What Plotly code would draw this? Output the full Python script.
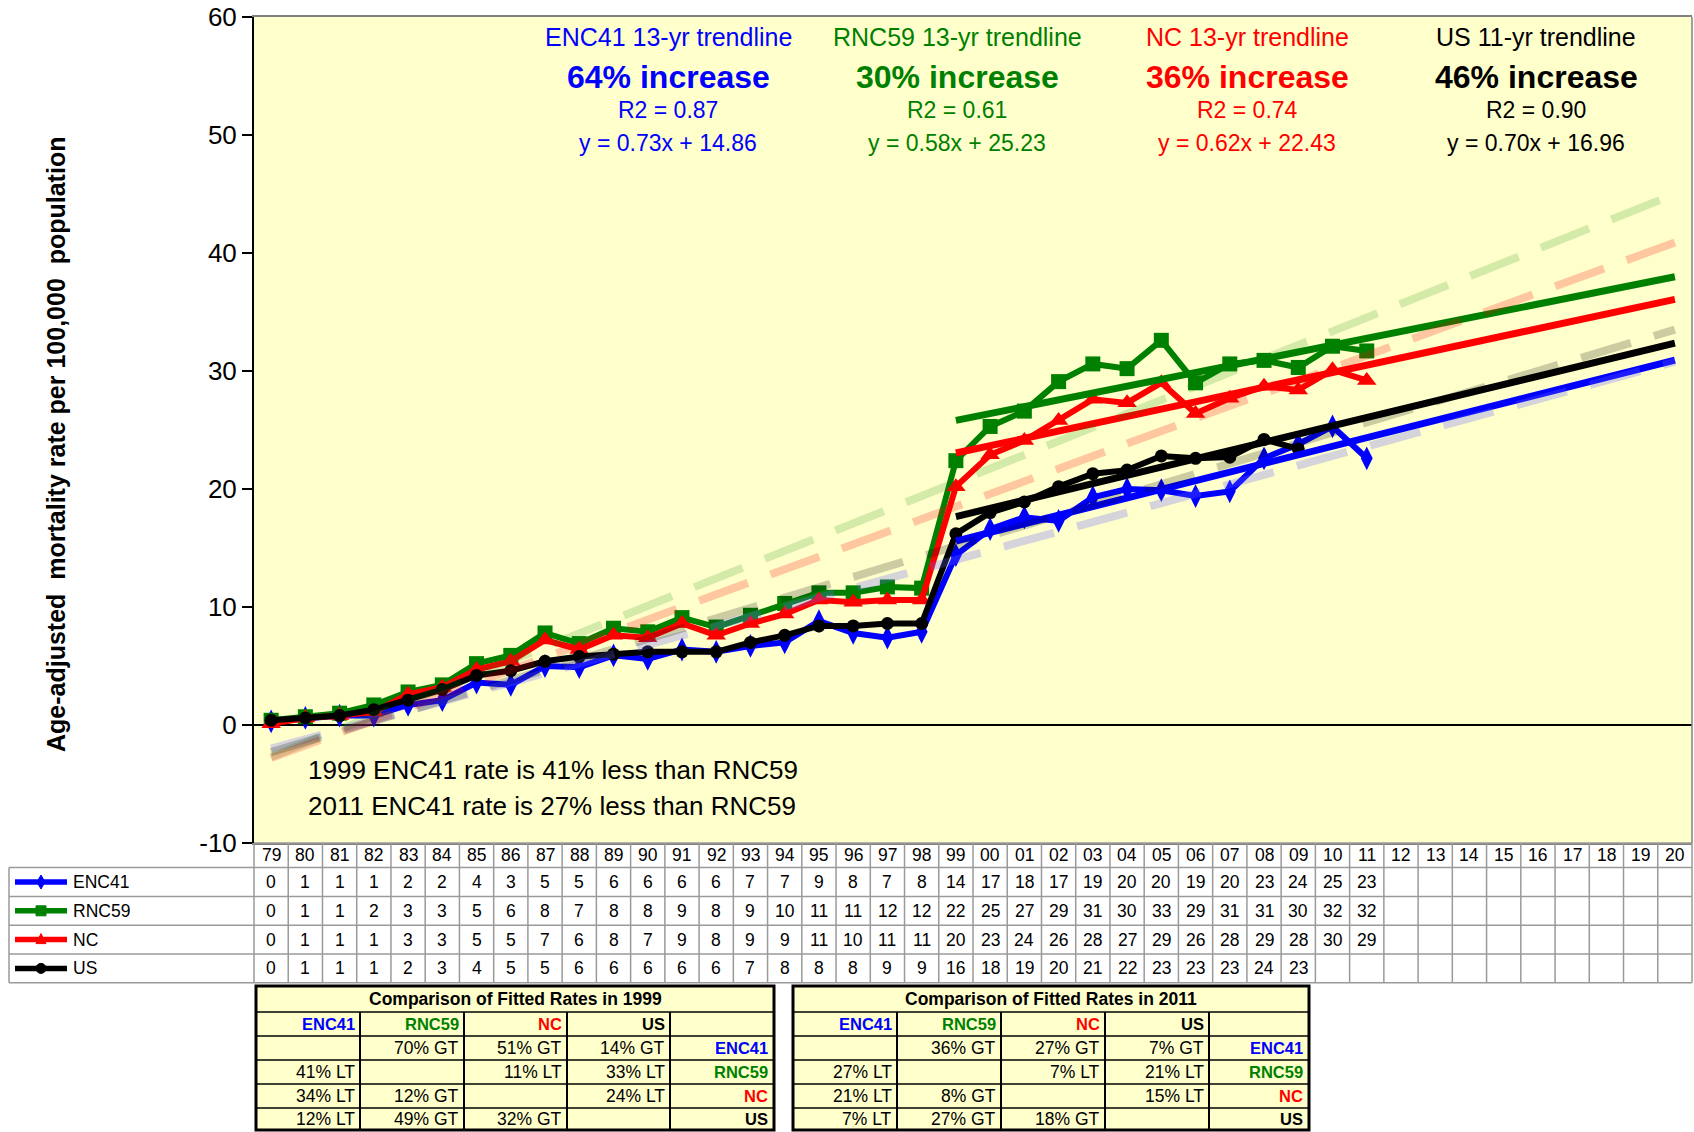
import plotly.graph_objects as go

# ---------------------------------------------------------------- data
year_labels = ["79", "80", "81", "82", "83", "84", "85", "86", "87", "88",
               "89", "90", "91", "92", "93", "94", "95", "96", "97", "98",
               "99", "00", "01", "02", "03", "04", "05", "06", "07", "08",
               "09", "10", "11", "12", "13", "14", "15", "16", "17", "18",
               "19", "20"]

series_names = ["ENC41", "RNC59", "NC", "US"]
series_colors = ["#0000FF", "#008000", "#FF0000", "#000000"]

enc41 = [0.3, 0.6, 0.8, 0.8, 1.7, 2.1, 3.6, 3.4, 5.0, 4.9, 5.9, 5.6, 6.4, 6.2,
         6.7, 7.0, 8.8, 7.8, 7.4, 7.9, 14.4, 16.6, 17.6, 17.3, 19.3, 20.0,
         19.9, 19.4, 19.8, 22.6, 23.8, 25.3, 22.6]
rnc59 = [0.4, 0.7, 1.0, 1.7, 2.8, 3.4, 5.2, 5.9, 7.8, 6.9, 8.2, 7.9, 9.1, 8.3,
         9.3, 10.3, 11.2, 11.2, 11.7, 11.6, 22.4, 25.3, 26.6, 29.1, 30.6, 30.2,
         32.6, 29.0, 30.6, 30.9, 30.3, 32.1, 31.7]
nc = [0.1, 0.6, 0.8, 1.1, 2.6, 3.2, 4.7, 5.4, 7.2, 6.4, 7.6, 7.4, 8.6, 7.6,
      8.6, 9.4, 10.6, 10.4, 10.6, 10.6, 20.2, 22.9, 24.1, 25.8, 27.6, 27.3,
      29.0, 26.4, 27.7, 28.7, 28.4, 30.1, 29.2]
us = [0.4, 0.6, 0.8, 1.3, 2.1, 3.0, 4.2, 4.6, 5.4, 5.8, 6.0, 6.2, 6.2, 6.2,
      7.0, 7.6, 8.4, 8.4, 8.6, 8.6, 16.2, 18.0, 18.9, 20.2, 21.3, 21.6, 22.8,
      22.6, 22.7, 24.2, 23.4]
series_values = [enc41, rnc59, nc, us]

# fitted trendlines from 1999 (x = 1) projected to 2020
trend_start_index = 20
trend_slopes = [0.73, 0.58, 0.62, 0.70]
trend_intercepts = [14.86, 25.23, 22.43, 16.96]
trend_r2 = [0.87, 0.61, 0.74, 0.90]
trend_years = [13, 13, 13, 11]
trend_increase = [64, 30, 36, 46]

# long-run trendlines (1979 value, 2020 value)
long_trend_start = [-2.0, -2.7, -2.8, -2.3]
long_trend_end = [30.8, 45.0, 40.9, 33.5]
long_trend_colors = ["rgba(100,100,255,0.28)", "rgba(0,128,0,0.17)",
                     "rgba(255,0,0,0.22)", "rgba(0,0,0,0.2)"]

y_tick_values = [-10, 0, 10, 20, 30, 40, 50, 60]
y_tick_labels = ["-10", "0", "10", "20", "30", "40", "50", "60"]

note_lines = ["1999 ENC41 rate is 41% less than RNC59",
              "2011 ENC41 rate is 27% less than RNC59"]

cmp_titles = ["Comparison of Fitted Rates in 1999",
              "Comparison of Fitted Rates in 2011"]
cmp_1999 = [["", "70% GT", "51% GT", "14% GT"],
            ["41% LT", "", "11% LT", "33% LT"],
            ["34% LT", "12% GT", "", "24% LT"],
            ["12% LT", "49% GT", "32% GT", ""]]
cmp_2011 = [["", "36% GT", "27% GT", "7% GT"],
            ["27% LT", "", "7% LT", "21% LT"],
            ["21% LT", "8% GT", "", "15% LT"],
            ["7% LT", "27% GT", "18% GT", ""]]

# ---------------------------------------------------------------- layout helpers
W, H = 1694, 1132
ML, MR, MT, MB = 254, 2, 17, 289
PW, PH = W - ML - MR, H - MT - MB
FONT = "Arial, Liberation Sans, sans-serif"
BG = "#FFFFCC"
GRID = "#9A9A9A"


def pxx(x):
    return (x - ML) / PW


def pxy(y):
    return (H - MB - y) / PH


n_cols = len(year_labels)
fig = go.Figure()

# data series
markers = [dict(symbol="diamond-tall", size=17),
           dict(symbol="square", size=15),
           dict(symbol="triangle-up", size=17),
           dict(symbol="circle", size=13)]
for name, vals, col, mk in zip(series_names, series_values, series_colors, markers):
    fig.add_trace(go.Scatter(
        x=list(range(len(vals))), y=vals, mode="lines+markers", name=name,
        line=dict(color=col, width=6), marker=dict(color=col, **mk),
        showlegend=False, hoverinfo="skip"))

# fitted trendlines
for col, s, b in zip(series_colors, trend_slopes, trend_intercepts):
    xs = list(range(trend_start_index, n_cols))
    ys = [s * (i - trend_start_index + 1) + b for i in xs]
    fig.add_trace(go.Scatter(x=xs, y=ys, mode="lines",
                             line=dict(color=col, width=7),
                             showlegend=False, hoverinfo="skip"))

# long-run dashed trendlines
for col, y0, y1 in zip(long_trend_colors, long_trend_start, long_trend_end):
    fig.add_trace(go.Scatter(x=[0, n_cols - 1], y=[y0, y1], mode="lines",
                             line=dict(color=col, width=8, dash="52px,24px"),
                             showlegend=False, hoverinfo="skip"))

ann = []
shapes = []

# trend summaries at the top
centers = [668, 957, 1247, 1536]
for i in range(4):
    c = series_colors[i]
    x = pxx(centers[i])
    ann.append(dict(x=x, y=pxy(37), text=f"{series_names[i]} {trend_years[i]}-yr trendline",
                    font=dict(size=25, color=c)))
    ann.append(dict(x=x, y=pxy(77), text=f"<b>{trend_increase[i]}% increase</b>",
                    font=dict(size=32, color=c)))
    ann.append(dict(x=x, y=pxy(110), text=f"R2 = {trend_r2[i]:.2f}",
                    font=dict(size=23, color=c)))
    ann.append(dict(x=x, y=pxy(143),
                    text=f"y = {trend_slopes[i]:.2f}x + {trend_intercepts[i]:.2f}",
                    font=dict(size=23, color=c)))

for k, line in enumerate(note_lines):
    ann.append(dict(x=pxx(306), y=pxy(770 + 36 * k), text=line, xanchor="left",
                    font=dict(size=26, color="black")))

# y axis title
ann.append(dict(x=pxx(56), y=pxy(445), textangle=-90,
                text="<b>Age-adjusted  mortality rate per 100,000  population</b>",
                font=dict(size=25, color="black")))

# ---------------------------------------------------------------- data table
row_edges = [843, 867.6, 896.4, 925.2, 954.0, 982.8]
row_mid = [(row_edges[i] + row_edges[i + 1]) / 2 for i in range(5)]
line_style = dict(color=GRID, width=1.5)

for i, lab in enumerate(year_labels):
    ann.append(dict(x=i, xref="x", y=pxy(row_mid[0]), text=lab,
                    font=dict(size=17.5, color="black")))
for r, vals in enumerate(series_values):
    for i, v in enumerate(vals):
        ann.append(dict(x=i, xref="x", y=pxy(row_mid[r + 1]), text=f"{v:.0f}",
                        font=dict(size=17.5, color="black")))

# grid
shapes.append(dict(type="line", xref="paper", yref="paper", x0=0, x1=1,
                   y0=pxy(row_edges[0]), y1=pxy(row_edges[0]), line=line_style))
for e in row_edges[1:]:
    shapes.append(dict(type="line", xref="paper", yref="paper", x0=pxx(9), x1=1,
                       y0=pxy(e), y1=pxy(e), line=line_style))
for i in range(1, n_cols):
    shapes.append(dict(type="line", xref="x", yref="paper", x0=i - 0.5, x1=i - 0.5,
                       y0=pxy(row_edges[0]), y1=pxy(row_edges[-1]), line=line_style))
for xe in (0, 1):
    shapes.append(dict(type="line", xref="paper", yref="paper", x0=xe, x1=xe,
                       y0=pxy(row_edges[0]), y1=pxy(row_edges[-1]), line=line_style))
shapes.append(dict(type="line", xref="paper", yref="paper", x0=pxx(9), x1=pxx(9),
                   y0=pxy(row_edges[1]), y1=pxy(row_edges[-1]), line=line_style))

# legend keys inside the table
for r in range(4):
    yc = row_mid[r + 1]
    c = series_colors[r]
    shapes.append(dict(type="line", xref="paper", yref="paper",
                       x0=pxx(15), x1=pxx(67), y0=pxy(yc), y1=pxy(yc),
                       line=dict(color=c, width=5.5)))
    cx = 41
    if r == 0:
        path = f"M {pxx(cx)} {pxy(yc - 7)} L {pxx(cx + 4)} {pxy(yc)} L {pxx(cx)} {pxy(yc + 7)} L {pxx(cx - 4)} {pxy(yc)} Z"
        shapes.append(dict(type="path", xref="paper", yref="paper", path=path,
                           fillcolor=c, line=dict(color=c, width=1)))
    elif r == 1:
        shapes.append(dict(type="rect", xref="paper", yref="paper",
                           x0=pxx(cx - 5), x1=pxx(cx + 5), y0=pxy(yc + 5), y1=pxy(yc - 5),
                           fillcolor=c, line=dict(color=c, width=1)))
    elif r == 2:
        path = f"M {pxx(cx)} {pxy(yc - 6)} L {pxx(cx + 5)} {pxy(yc + 4)} L {pxx(cx - 5)} {pxy(yc + 4)} Z"
        shapes.append(dict(type="path", xref="paper", yref="paper", path=path,
                           fillcolor=c, line=dict(color=c, width=1)))
    else:
        shapes.append(dict(type="circle", xref="paper", yref="paper",
                           x0=pxx(cx - 5), x1=pxx(cx + 5), y0=pxy(yc + 5), y1=pxy(yc - 5),
                           fillcolor=c, line=dict(color=c, width=1)))
    ann.append(dict(x=pxx(71), y=pxy(yc), text=series_names[r], xanchor="left",
                    font=dict(size=17.5, color="black")))

# right border of the plot area
shapes.append(dict(type="line", xref="paper", yref="paper", x0=1, x1=1, y0=0, y1=1,
                   line=dict(color="#808080", width=1.5)))

# ---------------------------------------------------------------- comparison tables
cmp_rows = [986, 1012, 1036, 1060, 1084, 1108, 1130]


def comparison_table(xedges, title, body):
    x0, x1 = xedges[0], xedges[-1]
    shapes.append(dict(type="rect", xref="paper", yref="paper", layer="below",
                       x0=pxx(x0), x1=pxx(x1), y0=pxy(cmp_rows[0]), y1=pxy(cmp_rows[-1]),
                       fillcolor=BG, line=dict(width=0)))
    for e in cmp_rows[1:-1]:
        shapes.append(dict(type="line", xref="paper", yref="paper",
                           x0=pxx(x0), x1=pxx(x1), y0=pxy(e), y1=pxy(e),
                           line=dict(color="black", width=1.5)))
    for xe in xedges[1:-1]:
        shapes.append(dict(type="line", xref="paper", yref="paper",
                           x0=pxx(xe), x1=pxx(xe), y0=pxy(cmp_rows[1]), y1=pxy(cmp_rows[-1]),
                           line=dict(color="black", width=2)))
    shapes.append(dict(type="rect", xref="paper", yref="paper",
                       x0=pxx(x0), x1=pxx(x1), y0=pxy(cmp_rows[0]), y1=pxy(cmp_rows[-1]),
                       line=dict(color="black", width=3)))
    ann.append(dict(x=pxx((x0 + x1) / 2), y=pxy((cmp_rows[0] + cmp_rows[1]) / 2),
                    text=f"<b>{title}</b>", font=dict(size=17.5, color="black")))
    # column headers
    for j in range(4):
        ann.append(dict(x=pxx(xedges[j + 1] - 3), xanchor="right",
                        y=pxy((cmp_rows[1] + cmp_rows[2]) / 2),
                        text=f"<b>{series_names[j]}</b>",
                        font=dict(size=16.5, color=series_colors[j])))
    for r in range(4):
        yc = pxy((cmp_rows[r + 2] + cmp_rows[r + 3]) / 2)
        for j in range(4):
            if body[r][j]:
                ann.append(dict(x=pxx(xedges[j + 1] - 3), xanchor="right", y=yc,
                                text=body[r][j], font=dict(size=17.5, color="black")))
        ann.append(dict(x=pxx(xedges[5] - 4), xanchor="right", y=yc,
                        text=f"<b>{series_names[r]}</b>",
                        font=dict(size=16.5, color=series_colors[r])))


comparison_table([256, 360, 464, 567, 670, 774], cmp_titles[0], cmp_1999)
comparison_table([793, 897, 1001, 1105, 1209, 1309], cmp_titles[1], cmp_2011)

for a in ann:
    a.setdefault("xref", "paper")
    a.setdefault("yref", "paper")
    a.setdefault("showarrow", False)
    a.setdefault("xanchor", "center")
    a.setdefault("yanchor", "middle")

fig.update_layout(
    width=W, height=H,
    margin=dict(l=ML, r=MR, t=MT, b=MB, autoexpand=False),
    paper_bgcolor="white", plot_bgcolor=BG,
    font=dict(family=FONT, color="black"),
    showlegend=False,
    annotations=ann, shapes=shapes,
    xaxis=dict(range=[-0.5, n_cols - 0.5], showticklabels=False, showgrid=False,
               zeroline=False, ticks="", showline=True, linecolor="#808080",
               linewidth=1.5, mirror=True, fixedrange=True),
    yaxis=dict(range=[-10, 60], tickmode="array", tickvals=y_tick_values,
               ticktext=y_tick_labels, showgrid=False,
               zeroline=True, zerolinecolor="black", zerolinewidth=1.5,
               showline=True, linecolor="black", linewidth=2,
               ticks="outside", ticklen=10, tickwidth=1.5, tickcolor="black",
               tickfont=dict(size=26, color="black", family=FONT), fixedrange=True),
)

fig.write_html("out.html")
